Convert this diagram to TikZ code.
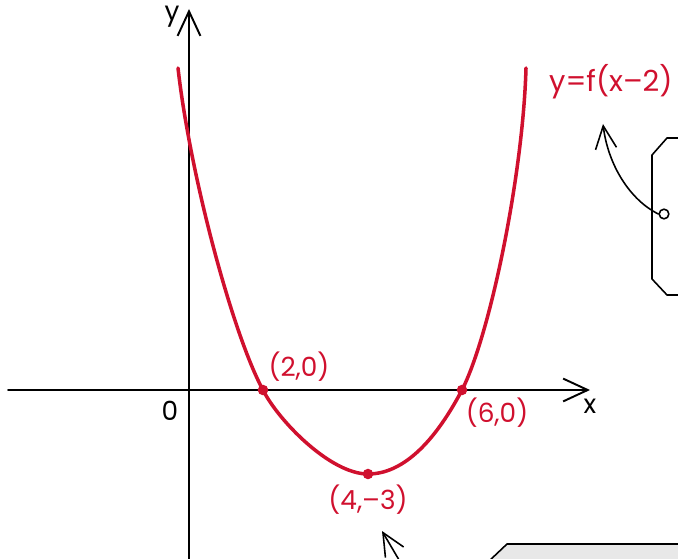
\documentclass[tikz,border=0pt]{standalone}
\usepackage{fontspec}
\setmainfont{Poppins}
\usetikzlibrary{arrows.meta}
\definecolor{crvred}{RGB}{208,16,46}
\definecolor{boxgray}{RGB}{232,232,232}

\begin{document}
\begin{tikzpicture}[x=0.02cm,y=0.02cm,line join=round,line cap=round,
  axisline/.style={line width=1.1pt,-{Straight Barb[length=14pt,width=13pt,line width=1.1pt]}},
  crvline/.style={crvred,line width=2pt},
  ptdot/.style={circle,fill=crvred,inner sep=0pt,minimum size=6pt},
  ptlabel/.style={crvred,font=\fontsize{15}{18}\selectfont},
  axlabel/.style={font=\fontsize{15}{18}\selectfont},
  callout/.style={line width=0.9pt,-{Straight Barb[length=13pt,width=12pt,line width=0.9pt]}}]
\clip (-190,-168) rectangle (488,390);
% ---- axes ----
\coordinate (xl) at (-182,0);
\coordinate (xr) at (400,0);
\coordinate (yb) at (-1,-175);
\coordinate (yt) at (-1,381);
\draw[axisline] (xl) -- (xr);
\draw[axisline] (yb) -- (yt);
\node[axlabel] (xlab) at (400,-16) {x};
\node[axlabel] (ylab) at (-18,373) {y};
\node[axlabel] (olab) at (-20,-21) {0};
% ---- the curve y=f(x-2) ----
\coordinate (ca) at (73,0);
\coordinate (cb) at (272,0);
\coordinate (cv) at (178,-84);
\coordinate (ctl) at (-12,322);
\coordinate (ctr) at (336,322);
\draw[crvline] (ctl) .. controls (0,215) and (43,55) .. (ca)
  .. controls (88,-30) and (140,-84) .. (cv)
  .. controls (220,-84) and (252,-38) .. (cb)
  .. controls (300,55) and (333,215) .. (ctr);
\node[ptlabel,anchor=west,font=\fontsize{16.5}{19}\selectfont] (flab) at (353,308) {y=f(x–2)};
% ---- marked points ----
\node[ptdot] (pa) at (ca) {};
\node[ptdot] (pb) at (cb) {};
\node[ptdot] (pc) at (cv) {};
\node[ptlabel] (la) at (109,23) {(2,0)};
\node[ptlabel] (lb) at (307,-23) {(6,0)};
\node[ptlabel] (lc) at (178,-110) {(4,–3)};
% ---- callout pieces at the edge ----
\draw[line width=0.9pt,fill=white] (500,252) -- (477,252) -- (462,235) -- (462,111) -- (477,95) -- (500,95);
\node[draw,circle,line width=0.9pt,inner sep=0pt,minimum size=5.5pt,fill=white] (hole) at (474,176) {};
\coordinate (ftip) at (413,266);
\draw[callout] (hole.west) .. controls (440,190) and (418,225) .. (ftip);
\draw[line width=0.9pt,fill=boxgray] (298,-172) -- (317,-154) -- (500,-154) -- (500,-172) -- cycle;
\coordinate (btail) at (212,-175);
\coordinate (btip) at (192,-141);
\draw[callout] (btail) -- (btip);
\end{tikzpicture}
\end{document}
